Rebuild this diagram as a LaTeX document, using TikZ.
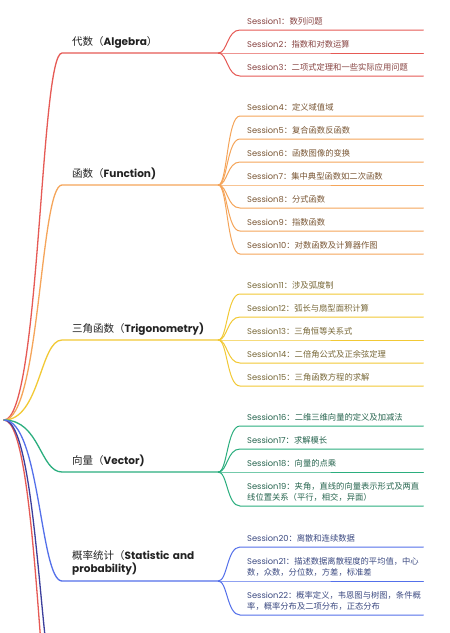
\documentclass[tikz,border=0pt]{standalone}
\usepackage{fontspec}
\setmainfont{Poppins}
\newfontfamily\cjkf{Noto Sans CJK SC}
\newfontfamily\latf{Poppins}
\definecolor{algL}{HTML}{E65A55}
\definecolor{funL}{HTML}{F5A55A}
\definecolor{triL}{HTML}{F2C935}
\definecolor{vecL}{HTML}{2BAE7E}
\definecolor{proL}{HTML}{5470EA}
\definecolor{navL}{HTML}{3C3F9C}
\definecolor{algT}{HTML}{874341}
\definecolor{funT}{HTML}{7A5735}
\definecolor{triT}{HTML}{786838}
\definecolor{vecT}{HTML}{27654F}
\definecolor{proT}{HTML}{3D4B82}
\definecolor{mainT}{HTML}{222222}
\newcommand\sessn[1]{{\latf Session#1}\cjkf ：}
\newcommand\sesline[3]{%
  \draw[#1,sesl] (#2.south east) .. controls +(9,0) and +(-13,0) .. ([xshift=-7pt]#3.south west) -- (#3.south east);}
\newcommand\mainline[2]{%
  \draw[#1,mainl] (r) .. controls +(36,0) and +(-22,0) .. ([xshift=-10pt]#2.south west) -- (#2.south east);}
\tikzset{
  sesbase/.style={anchor=south west, inner xsep=0pt,
    text width=176pt, align=left, font=\fontsize{8.3}{11.5}\selectfont},
  ses/.style={sesbase, inner ysep=3.5pt, text depth=2pt},
  sestwo/.style={sesbase, inner ysep=4pt},
  topicbase/.style={anchor=south west, inner xsep=0pt,
    text width=146pt, align=left, text=mainT, font=\fontsize{10.5}{13}\selectfont},
  topic/.style={topicbase, inner ysep=5.8pt, text depth=2pt},
  topictwo/.style={topicbase, inner ysep=6pt},
  sesl/.style={line width=1pt, line cap=round},
  mainl/.style={line width=1.3pt, line cap=round}
}
\begin{document}
\begin{tikzpicture}[x=1pt,y=-1pt]
\clip (0,0) rectangle (450,633);
\fill[white] (0,0) rectangle (450,633);
\coordinate (r) at (4,420);
\coordinate (o1) at (62,796);
\coordinate (o2) at (62,714);
% topics
\node[topic] (t1) at (72,53) {{\cjkf 代数（}{\bfseries Algebra}{\cjkf ）}};
\node[topic] (t2) at (72,185) {{\cjkf 函数（}{\bfseries Function)}};
\node[topic] (t3) at (72,340) {{\cjkf 三角函数（}{\bfseries Trigonometry)}};
\node[topic] (t4) at (72,472) {{\cjkf 向量（}{\bfseries Vector)}};
\node[topictwo] (t5) at (72,581) {{\cjkf 概率统计（}{\bfseries Statistic and}\\{\bfseries probability)}};
% sessions
\node[ses,text=algT] (s1) at (247,30) {\sessn{1}数列问题};
\node[ses,text=algT] (s2) at (247,53) {\sessn{2}指数和对数运算};
\node[ses,text=algT] (s3) at (247,76) {\sessn{3}二项式定理和一些实际应用问题};
\node[ses,text=funT] (s4) at (247,116) {\sessn{4}定义域值域};
\node[ses,text=funT] (s5) at (247,139) {\sessn{5}复合函数反函数};
\node[ses,text=funT] (s6) at (247,162) {\sessn{6}函数图像的变换};
\node[ses,text=funT] (s7) at (247,185) {\sessn{7}集中典型函数如二次函数};
\node[ses,text=funT] (s8) at (247,208) {\sessn{8}分式函数};
\node[ses,text=funT] (s9) at (247,231) {\sessn{9}指数函数};
\node[ses,text=funT] (s10) at (247,254) {\sessn{10}对数函数及计算器作图};
\node[ses,text=triT] (s11) at (247,294) {\sessn{11}涉及弧度制};
\node[ses,text=triT] (s12) at (247,317) {\sessn{12}弧长与扇型面积计算};
\node[ses,text=triT] (s13) at (247,340) {\sessn{13}三角恒等关系式};
\node[ses,text=triT] (s14) at (247,363) {\sessn{14}二倍角公式及正余弦定理};
\node[ses,text=triT] (s15) at (247,386) {\sessn{15}三角函数方程的求解};
\node[ses,text=vecT] (s16) at (247,426) {\sessn{16}二维三维向量的定义及加减法};
\node[ses,text=vecT] (s17) at (247,449) {\sessn{17}求解模长};
\node[ses,text=vecT] (s18) at (247,472) {\sessn{18}向量的点乘};
\node[sestwo,text=vecT] (s19) at (247,506) {\sessn{19}夹角，直线的向量表示形式及两直\\线位置关系（平行，相交，异面）};
\node[ses,text=proT] (s20) at (247,547) {\sessn{20}离散和连续数据};
\node[sestwo,text=proT] (s21) at (247,581) {\sessn{21}描述数据离散程度的平均值，中心\\数，众数，分位数，方差，标准差};
\node[sestwo,text=proT] (s22) at (247,615) {\sessn{22}概率定义，韦恩图与树图，条件概\\率，概率分布及二项分布，正态分布};
% root branches
\draw[algL,mainl] (r) .. controls +(36,0) and +(-22,0) .. (o1);
\draw[navL,mainl] (r) .. controls +(36,0) and +(-22,0) .. (o2);
\mainline{algL}{t1}
\mainline{funL}{t2}
\mainline{triL}{t3}
\mainline{vecL}{t4}
\mainline{proL}{t5}
% session branches
\sesline{algL}{t1}{s1}\sesline{algL}{t1}{s2}\sesline{algL}{t1}{s3}
\sesline{funL}{t2}{s4}\sesline{funL}{t2}{s5}\sesline{funL}{t2}{s6}\sesline{funL}{t2}{s7}
\sesline{funL}{t2}{s8}\sesline{funL}{t2}{s9}\sesline{funL}{t2}{s10}
\sesline{triL}{t3}{s11}\sesline{triL}{t3}{s12}\sesline{triL}{t3}{s13}\sesline{triL}{t3}{s14}\sesline{triL}{t3}{s15}
\sesline{vecL}{t4}{s16}\sesline{vecL}{t4}{s17}\sesline{vecL}{t4}{s18}\sesline{vecL}{t4}{s19}
\sesline{proL}{t5}{s20}\sesline{proL}{t5}{s21}\sesline{proL}{t5}{s22}
\end{tikzpicture}
\end{document}
